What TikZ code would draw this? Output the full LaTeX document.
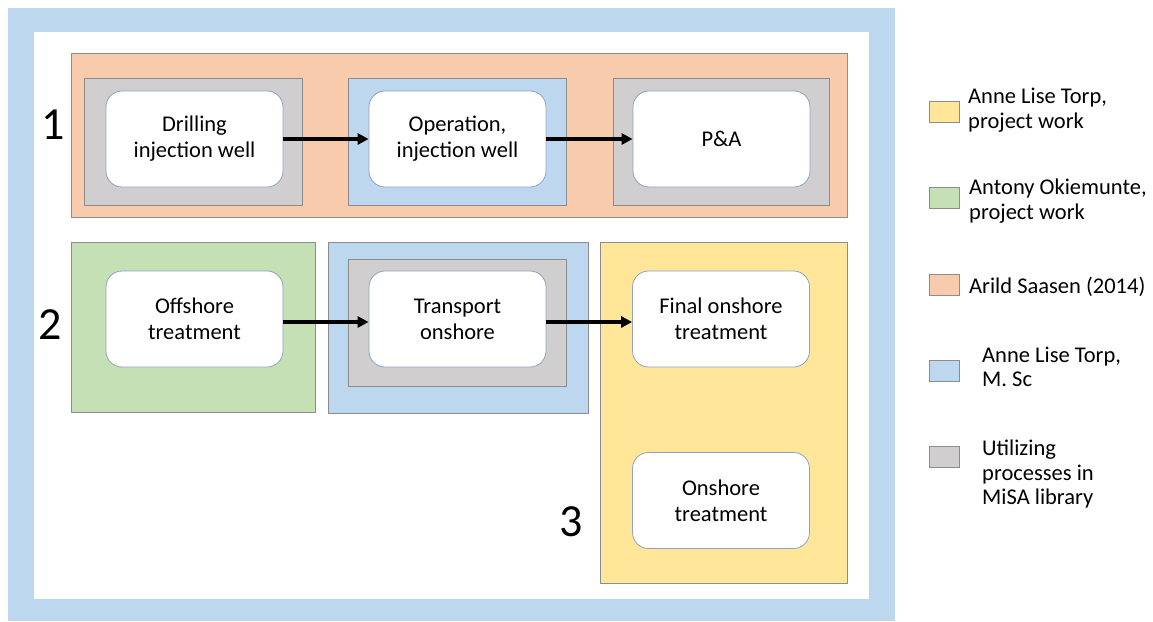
\documentclass[tikz,border=0pt]{standalone}
\usepackage{fontspec}
\setmainfont{Carlito}
\usetikzlibrary{arrows.meta}

\definecolor{frameblue}{HTML}{BDD7EE}
\definecolor{orangefill}{HTML}{F8CBAD}
\definecolor{grayfill}{HTML}{D0CECE}
\definecolor{bluefill}{HTML}{BDD7EE}
\definecolor{greenfill}{HTML}{C5E0B4}
\definecolor{yellowfill}{HTML}{FFE699}
\definecolor{edgegray}{HTML}{8C8C8C}
\definecolor{boxedge}{HTML}{8FA2C2}

\tikzset{
  area/.style={draw=edgegray, line width=0.8pt},
  procbox/.style={draw=boxedge, line width=0.8pt, fill=white, rounded corners=16pt,
    minimum width=177pt, minimum height=96pt, align=center,
    font=\fontsize{22.5}{26}\selectfont, inner sep=0pt},
  flow/.style={line width=3.2pt, -{Triangle[length=11pt,width=11pt]}},
  rownum/.style={font=\fontsize{46}{50}\selectfont, inner sep=0pt},
  swatch/.style={draw=edgegray, line width=0.8pt, minimum width=30pt, minimum height=21pt, inner sep=0pt},
  legtext/.style={anchor=west, align=left, font=\fontsize{22.5}{24.5}\selectfont, inner sep=0pt}
}

\begin{document}
\begin{tikzpicture}[x=1pt, y=-1pt]
  \useasboundingbox (0,0) rectangle (1153,621);
  \fill[white] (0,0) rectangle (1153,621);

  % outer frame
  \fill[frameblue] (8,8) rectangle (895,621);
  \fill[white] (34,32) rectangle (869,599);

  % row 1 areas
  \filldraw[area, fill=orangefill] (71,53) rectangle (847,217);
  \filldraw[area, fill=grayfill] (84,78) rectangle (302,205);
  \filldraw[area, fill=bluefill] (348,78) rectangle (566,205);
  \filldraw[area, fill=grayfill] (613,78) rectangle (829,205);

  % row 2 areas
  \filldraw[area, fill=greenfill] (71,242) rectangle (315,412);
  \filldraw[area, fill=bluefill] (328,242) rectangle (588,413);
  \filldraw[area, fill=grayfill] (348,259) rectangle (566,386);
  \filldraw[area, fill=yellowfill] (600,242) rectangle (847,583);

  % process boxes
  \node[procbox] (drill) at (194.5,139) {Drilling\\injection well};
  \node[procbox] (oper)  at (457.5,139) {Operation,\\injection well};
  \node[procbox] (pa)    at (721.5,139) {P\&A};
  \node[procbox] (off)   at (194.5,319) {Offshore\\treatment};
  \node[procbox] (trans) at (457.5,319) {Transport\\onshore};
  \node[procbox] (final) at (721,319) {Final onshore\\treatment};
  \node[procbox] (onsh)  at (721,500.5) {Onshore\\treatment};

  % flow arrows
  \draw[flow] (drill.east) -- (oper.west);
  \draw[flow] (oper.east) -- (pa.west);
  \draw[flow] ([yshift=-3pt]off.east) -- ([yshift=-3pt]trans.west);
  \draw[flow] ([yshift=-3pt]trans.east) -- ([yshift=-3pt]final.west);

  % row numbers
  \node[rownum] (n1) at (53,125) {1};
  \node[rownum] (n2) at (50,325) {2};
  \node[rownum] (n3) at (571,522) {3};

  % legend
  \node[swatch, fill=yellowfill] (ly) at (944,112) {};
  \node[legtext] (lyt) at (968,110) {Anne Lise Torp,\\project work};
  \node[swatch, fill=greenfill] (lg) at (944,198) {};
  \node[legtext] (lgt) at (969,201) {Antony Okiemunte,\\project work};
  \node[swatch, fill=orangefill] (lo) at (944,284.5) {};
  \node[legtext] (lot) at (969,287) {Arild Saasen (2014)};
  \node[swatch, fill=bluefill] (lb) at (944,371) {};
  \node[legtext] (lbt) at (982,367) {Anne Lise Torp,\\M. Sc};
  \node[swatch, fill=grayfill] (lr) at (944,457) {};
  \node[legtext] (lrt) at (982,474) {Utilizing\\processes in\\MiSA library};
\end{tikzpicture}
\end{document}
